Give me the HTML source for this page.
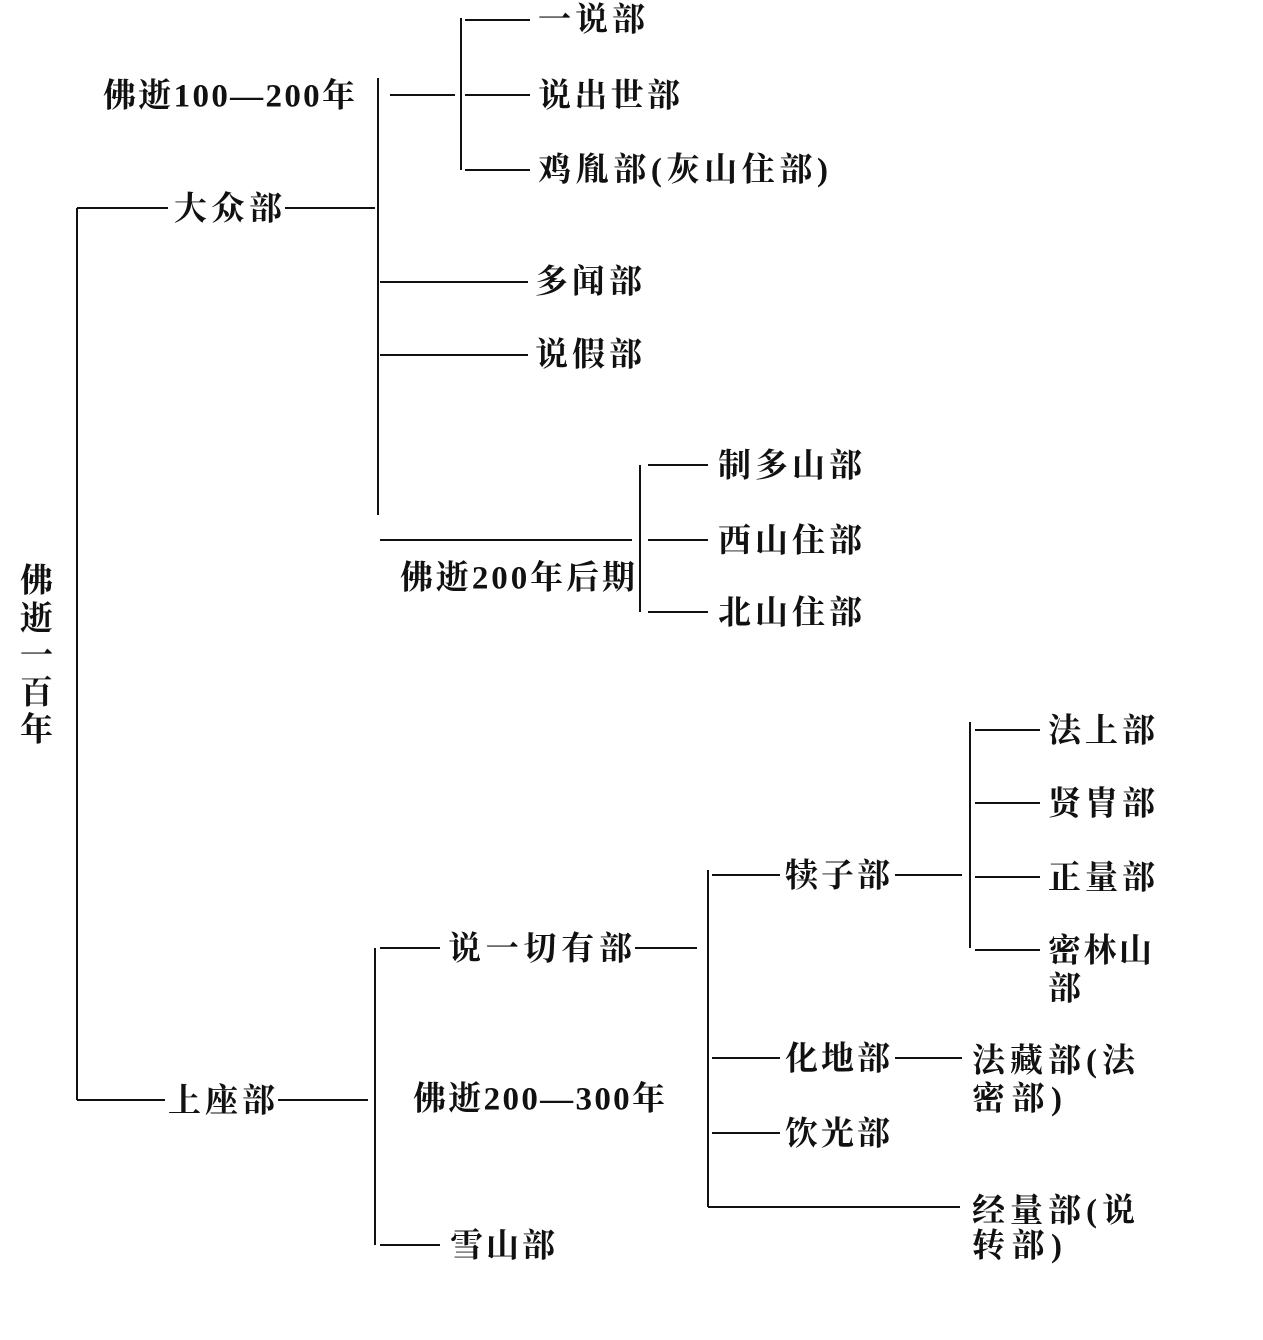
<!DOCTYPE html>
<html><head><meta charset="utf-8"><style>
html,body{margin:0;padding:0;background:#fff;}
svg text{font-family:"Liberation Serif","Noto Serif CJK SC","Noto Sans CJK SC",serif;font-size:33px;font-weight:bold;fill:#111;dominant-baseline:middle;}
</style></head><body>
<svg width="1263" height="1335" viewBox="0 0 1263 1335" xmlns="http://www.w3.org/2000/svg">
<g stroke="#111" stroke-width="2" fill="none">
<line x1="77" y1="208" x2="77" y2="1100"/>
<line x1="77" y1="208" x2="168" y2="208"/>
<line x1="285" y1="208" x2="375" y2="208"/>
<line x1="378" y1="78" x2="378" y2="515"/>
<line x1="390" y1="95" x2="455" y2="95"/>
<line x1="461" y1="18" x2="461" y2="170"/>
<line x1="465" y1="20" x2="530" y2="20"/>
<line x1="465" y1="95" x2="530" y2="95"/>
<line x1="465" y1="170" x2="530" y2="170"/>
<line x1="380" y1="282" x2="528" y2="282"/>
<line x1="380" y1="355" x2="528" y2="355"/>
<line x1="380" y1="540" x2="632" y2="540"/>
<line x1="640" y1="465" x2="640" y2="612"/>
<line x1="648" y1="465" x2="708" y2="465"/>
<line x1="648" y1="540" x2="708" y2="540"/>
<line x1="648" y1="612" x2="708" y2="612"/>
<line x1="77" y1="1100" x2="165" y2="1100"/>
<line x1="278" y1="1100" x2="368" y2="1100"/>
<line x1="375" y1="948" x2="375" y2="1245"/>
<line x1="380" y1="948" x2="440" y2="948"/>
<line x1="380" y1="1245" x2="440" y2="1245"/>
<line x1="635" y1="948" x2="697" y2="948"/>
<line x1="708" y1="870" x2="708" y2="1207"/>
<line x1="712" y1="875" x2="780" y2="875"/>
<line x1="895" y1="875" x2="962" y2="875"/>
<line x1="970" y1="722" x2="970" y2="948"/>
<line x1="975" y1="730" x2="1040" y2="730"/>
<line x1="975" y1="803" x2="1040" y2="803"/>
<line x1="975" y1="877" x2="1040" y2="877"/>
<line x1="975" y1="950" x2="1040" y2="950"/>
<line x1="712" y1="1058" x2="780" y2="1058"/>
<line x1="895" y1="1058" x2="962" y2="1058"/>
<line x1="712" y1="1133" x2="780" y2="1133"/>
<line x1="708" y1="1207" x2="960" y2="1207"/>
</g>
<g lengthAdjust="spacingAndGlyphs">
<text x="20" y="584">佛</text>
<text x="20" y="622">逝</text>
<text x="20" y="659">一</text>
<text x="20" y="696">百</text>
<text x="20" y="733">年</text>
<text x="103" y="99" textLength="252">佛逝100—200年</text>
<text x="174" y="212" textLength="108">大众部</text>
<text x="538" y="23" textLength="107">一说部</text>
<text x="538" y="99" textLength="142">说出世部</text>
<text x="538" y="173" textLength="290">鸡胤部(灰山住部)</text>
<text x="535" y="285" textLength="107">多闻部</text>
<text x="535" y="358" textLength="107">说假部</text>
<text x="400" y="581" textLength="235">佛逝200年后期</text>
<text x="718" y="469" textLength="144">制多山部</text>
<text x="718" y="544" textLength="144">西山住部</text>
<text x="718" y="616" textLength="144">北山住部</text>
<text x="168" y="1104" textLength="107">上座部</text>
<text x="448" y="952" textLength="184">说一切有部</text>
<text x="413" y="1102" textLength="252">佛逝200—300年</text>
<text x="450" y="1249" textLength="105">雪山部</text>
<text x="785" y="879" textLength="105">犊子部</text>
<text x="1048" y="734" textLength="107">法上部</text>
<text x="1048" y="807" textLength="107">贤胄部</text>
<text x="1048" y="881" textLength="107">正量部</text>
<text x="1048" y="954" textLength="104">密林山</text>
<text x="1048" y="992">部</text>
<text x="785" y="1062" textLength="105">化地部</text>
<text x="972" y="1064" textLength="163">法藏部(法</text>
<text x="972" y="1102" textLength="90">密部)</text>
<text x="785" y="1137" textLength="105">饮光部</text>
<text x="972" y="1214" textLength="163">经量部(说</text>
<text x="972" y="1249" textLength="90">转部)</text>
</g>
</svg>
</body></html>
